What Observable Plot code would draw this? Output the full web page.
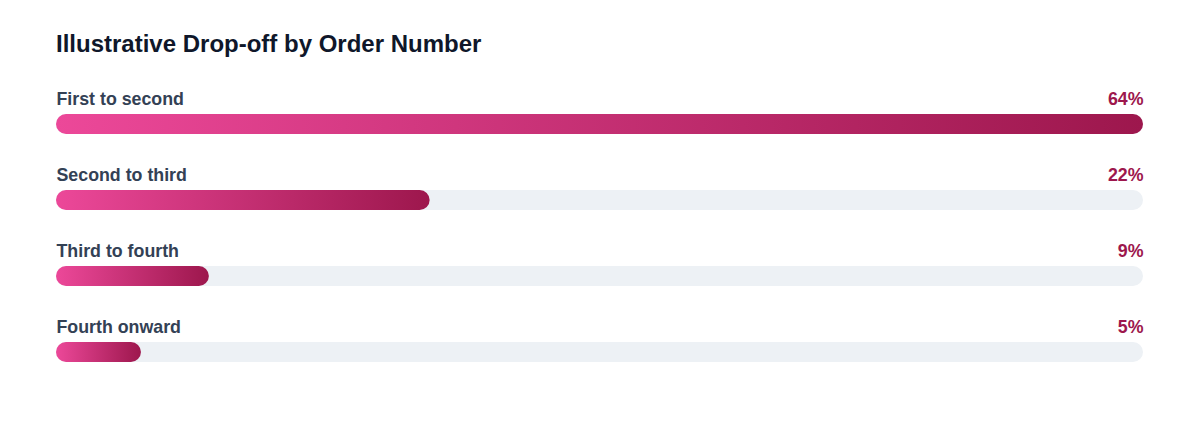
<!DOCTYPE html>
<html>
<head>
<meta charset="utf-8">
<script src="https://cdn.jsdelivr.net/npm/d3@7"></script>
<script src="https://cdn.jsdelivr.net/npm/@observablehq/plot@0.6"></script>
<style>
  html, body { margin: 0; padding: 0; background: #ffffff; }
  body { width: 1200px; height: 432px; overflow: hidden; font-family: "Liberation Sans", Arial, sans-serif; }
  #title { position: absolute; left: 56px; top: 29px; margin: 0; font-size: 24px; font-weight: 700; color: #0f172a; line-height: 30px; }
  #chart { position: absolute; left: 0; top: 70px; }
</style>
</head>
<body>
<h2 id="title">Illustrative Drop-off by Order Number</h2>
<div id="chart"></div>
<script>
const categories = ["First to second", "Second to third", "Third to fourth", "Fourth onward"];
const values = [64, 22, 9, 5];
const valueLabels = ["64%", "22%", "9%", "5%"];

const data = categories.map((c, i) => ({category: c, value: values[i], label: valueLabels[i]}));
const maxValue = d3.max(values);

const chart = Plot.plot({
  width: 1200,
  height: 340,
  marginLeft: 56,
  marginRight: 57,
  marginTop: 16,
  marginBottom: 20,
  style: {fontFamily: "'Liberation Sans', Arial, sans-serif", background: "transparent", overflow: "visible"},
  x: {domain: [0, maxValue], axis: null},
  y: {domain: categories, range: [16, 16 + 76 * categories.length], padding: 0, axis: null, type: "band"},
  marks: [
    Plot.barX(data, {x1: 0, x2: maxValue, y: "category", fill: "#edf1f5", rx: 10, insetTop: 28, insetBottom: 28}),
    Plot.barX(data, {x1: 0, x2: "value", y: "category", fill: "url(#dropGrad)", rx: 10, insetTop: 28, insetBottom: 28}),
    Plot.text(data, {x: 0, y: "category", text: "category", textAnchor: "start", lineAnchor: "bottom", dy: -20, fontSize: 17.8, fontWeight: 700, fill: "#334155"}),
    Plot.text(data, {x: maxValue, y: "category", text: "label", textAnchor: "end", lineAnchor: "bottom", dy: -20, fontSize: 17.8, fontWeight: 700, fill: "#9d174d"})
  ]
});

const ns = "http://www.w3.org/2000/svg";
const defs = document.createElementNS(ns, "defs");
const grad = document.createElementNS(ns, "linearGradient");
grad.setAttribute("id", "dropGrad");
grad.setAttribute("x1", "0"); grad.setAttribute("x2", "1"); grad.setAttribute("y1", "0"); grad.setAttribute("y2", "0");
[["0%", "#ec4899"], ["100%", "#9d174d"]].forEach(([o, c]) => {
  const s = document.createElementNS(ns, "stop");
  s.setAttribute("offset", o); s.setAttribute("stop-color", c);
  grad.appendChild(s);
});
defs.appendChild(grad);
chart.insertBefore(defs, chart.firstChild);
document.getElementById("chart").appendChild(chart);
</script>
</body>
</html>
